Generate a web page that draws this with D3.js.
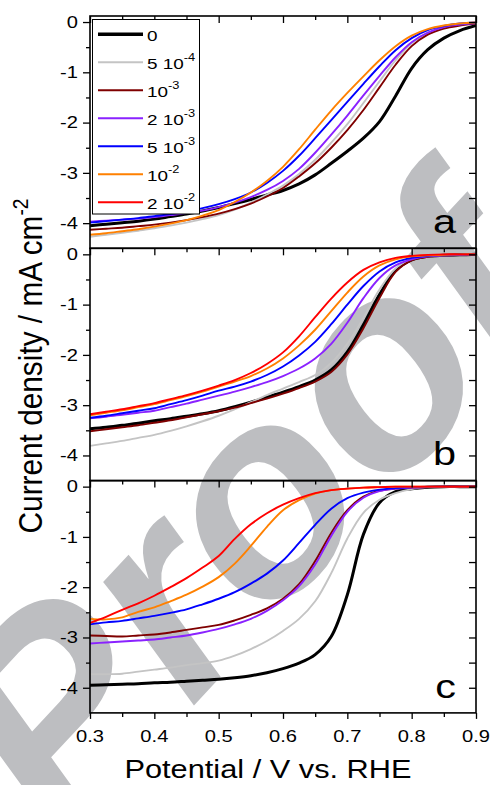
<!DOCTYPE html>
<html>
<head>
<meta charset="utf-8">
<script src="https://cdn.jsdelivr.net/npm/d3@7"></script>
<style>
  html, body { margin: 0; padding: 0; background: #fff; }
  svg { display: block; font-family: "Liberation Sans", Arial, Helvetica, sans-serif; }
</style>
</head>
<body>
<svg id="chart" width="490" height="785"></svg>
<script>
// ---------------- data ----------------
const potential = [0.300,0.325,0.350,0.375,0.400,0.425,0.450,0.475,0.500,0.525,0.550,0.575,0.600,0.625,0.650,0.675,0.700,0.725,0.750,0.775,0.800,0.825,0.850,0.875,0.900];

const legendBase = ["0", "5 10", "10", "2 10", "5 10", "10", "2 10"];
const legendExp  = ["",  "-4",   "-3", "-3",   "-3",   "-2", "-2"];
const seriesColors = ["#000000", "#c4c4c4", "#7f0000", "#8a22ff", "#0000ff", "#ff8000", "#ff0000"];

// panel a (no 2 10^-2 curve)
const a_0   = [-4.05,-4.02,-3.99,-3.96,-3.92,-3.87,-3.82,-3.76,-3.69,-3.61,-3.53,-3.44,-3.35,-3.22,-3.04,-2.81,-2.57,-2.31,-1.98,-1.47,-0.92,-0.55,-0.32,-0.17,-0.07];
const a_5e4 = [-4.27,-4.23,-4.19,-4.15,-4.10,-4.05,-3.99,-3.92,-3.84,-3.73,-3.59,-3.43,-3.25,-3.02,-2.74,-2.40,-2.03,-1.61,-1.18,-0.76,-0.42,-0.22,-0.11,-0.05,-0.02];
const a_1e3 = [-4.13,-4.11,-4.09,-4.06,-4.03,-3.99,-3.94,-3.88,-3.81,-3.72,-3.61,-3.47,-3.30,-3.07,-2.81,-2.50,-2.15,-1.75,-1.30,-0.85,-0.48,-0.25,-0.13,-0.07,-0.03];
const a_2e3 = [-3.97,-3.95,-3.93,-3.91,-3.88,-3.84,-3.80,-3.75,-3.68,-3.59,-3.48,-3.34,-3.16,-2.92,-2.60,-2.24,-1.86,-1.46,-1.07,-0.70,-0.40,-0.21,-0.10,-0.05,-0.02];
const a_5e3 = [-3.99,-3.96,-3.93,-3.90,-3.86,-3.82,-3.76,-3.70,-3.62,-3.52,-3.39,-3.20,-2.96,-2.66,-2.31,-1.95,-1.59,-1.23,-0.88,-0.56,-0.32,-0.16,-0.08,-0.03,-0.01];
const a_1e2 = [-4.23,-4.20,-4.16,-4.12,-4.07,-4.01,-3.94,-3.85,-3.74,-3.58,-3.39,-3.16,-2.88,-2.53,-2.14,-1.76,-1.41,-1.08,-0.76,-0.48,-0.27,-0.14,-0.07,-0.03,-0.01];
const a_2e2 = null;

// panel b
const b_0   = [-3.47,-3.44,-3.40,-3.36,-3.31,-3.27,-3.22,-3.17,-3.11,-3.03,-2.94,-2.84,-2.74,-2.63,-2.50,-2.30,-1.94,-1.40,-0.80,-0.32,-0.11,-0.04,-0.02,-0.01,0.00];
const b_5e4 = [-3.81,-3.76,-3.71,-3.65,-3.59,-3.51,-3.42,-3.32,-3.21,-3.08,-2.94,-2.80,-2.67,-2.54,-2.40,-2.16,-1.78,-1.26,-0.70,-0.28,-0.10,-0.04,-0.02,-0.01,0.00];
const b_1e3 = [-3.52,-3.48,-3.44,-3.40,-3.35,-3.30,-3.24,-3.18,-3.12,-3.05,-2.96,-2.87,-2.77,-2.66,-2.53,-2.34,-1.99,-1.47,-0.87,-0.35,-0.12,-0.05,-0.02,-0.01,0.00];
const b_2e3 = [-3.26,-3.23,-3.19,-3.15,-3.11,-3.04,-2.97,-2.89,-2.81,-2.73,-2.64,-2.54,-2.42,-2.27,-2.07,-1.78,-1.36,-0.87,-0.47,-0.22,-0.10,-0.04,-0.02,-0.01,0.00];
const b_5e3 = [-3.25,-3.21,-3.16,-3.11,-3.06,-2.98,-2.90,-2.81,-2.71,-2.63,-2.53,-2.40,-2.23,-2.01,-1.74,-1.39,-1.00,-0.63,-0.34,-0.16,-0.07,-0.03,-0.01,0.00,0.00];
const b_1e2 = [-3.20,-3.15,-3.10,-3.04,-2.98,-2.90,-2.82,-2.73,-2.63,-2.53,-2.42,-2.27,-2.07,-1.81,-1.50,-1.13,-0.76,-0.44,-0.22,-0.10,-0.04,-0.02,-0.01,0.00,0.00];
const b_2e2 = [-3.18,-3.13,-3.08,-3.02,-2.96,-2.88,-2.80,-2.71,-2.61,-2.50,-2.36,-2.18,-1.95,-1.63,-1.25,-0.88,-0.56,-0.31,-0.16,-0.07,-0.03,-0.01,0.00,0.00,0.00];

// panel c
const c_0   = [-3.95,-3.94,-3.93,-3.92,-3.90,-3.89,-3.87,-3.85,-3.83,-3.80,-3.76,-3.70,-3.62,-3.51,-3.34,-2.98,-2.15,-0.95,-0.32,-0.10,-0.04,-0.01,0.00,0.00,0.00];
const c_5e4 = [-3.73,-3.73,-3.72,-3.68,-3.64,-3.60,-3.55,-3.51,-3.46,-3.36,-3.23,-3.07,-2.87,-2.63,-2.28,-1.72,-1.03,-0.52,-0.26,-0.13,-0.05,-0.01,0.00,0.00,0.00];
const c_1e3 = [-2.96,-2.97,-2.98,-2.96,-2.94,-2.90,-2.85,-2.80,-2.75,-2.66,-2.55,-2.42,-2.23,-1.94,-1.48,-0.92,-0.47,-0.20,-0.08,-0.04,-0.02,-0.01,0.00,0.00,0.00];
const c_2e3 = [-3.12,-3.10,-3.08,-3.06,-3.04,-3.00,-2.96,-2.90,-2.83,-2.74,-2.63,-2.47,-2.26,-1.98,-1.55,-0.98,-0.50,-0.22,-0.09,-0.04,-0.02,-0.01,0.00,0.00,0.00];
const c_5e3 = [-2.74,-2.70,-2.67,-2.62,-2.57,-2.51,-2.44,-2.34,-2.23,-2.10,-1.93,-1.73,-1.47,-1.12,-0.76,-0.44,-0.23,-0.12,-0.06,-0.03,-0.01,0.00,0.00,0.00,0.00];
const c_1e2 = [-2.63,-2.64,-2.60,-2.49,-2.40,-2.28,-2.15,-1.99,-1.80,-1.53,-1.18,-0.80,-0.47,-0.27,-0.14,-0.07,-0.04,-0.02,-0.01,0.00,0.00,0.00,0.00,0.00,0.00];
const c_2e2 = [-2.71,-2.59,-2.45,-2.32,-2.17,-2.00,-1.82,-1.61,-1.38,-1.04,-0.75,-0.53,-0.36,-0.23,-0.13,-0.07,-0.04,-0.02,-0.01,0.00,0.00,0.00,0.00,0.00,0.00];

const panelNames = ["a", "b", "c"];
const panelSeries = [
  [a_0, a_5e4, a_1e3, a_2e3, a_5e3, a_1e2, a_2e2],
  [b_0, b_5e4, b_1e3, b_2e3, b_5e3, b_1e2, b_2e2],
  [c_0, c_5e4, c_1e3, c_2e3, c_5e3, c_1e2, c_2e2]
];

const xTicks = [0.3,0.4,0.5,0.6,0.7,0.8,0.9];
const xMinor = [0.35,0.45,0.55,0.65,0.75,0.85];
const yTicks = [0,-1,-2,-3,-4];
const yMinor = [-0.5,-1.5,-2.5,-3.5];

// ---------------- layout ----------------
const svg = d3.select("#chart");
const left = 90, right = 476;
const panelTop = [16, 248.3, 480.6];
const panelH = 232.3;
const SX = 1.22; // horizontal stretch of the reference's type

const x = d3.scaleLinear().domain([0.3, 0.9]).range([left, right]);

function stext(g, px, py, str, size, anchor, sx, sy) {
  return g.append("text")
    .attr("transform", `translate(${px},${py}) scale(${sx||SX},${sy||1})`)
    .attr("text-anchor", anchor || "start")
    .attr("font-size", size)
    .attr("fill", "#000")
    .text(str);
}

// watermark
svg.append("text")
  .attr("transform", "translate(61,848) rotate(-47)")
  .attr("font-size", 285)
  .attr("font-weight", "bold")
  .attr("font-style", "italic")
  .attr("fill", "#bdbec1")
  .text("Proof");

const defs = svg.append("defs");

panelNames.forEach((name, p) => {
  const top = panelTop[p], bottom = top + panelH;
  const y = d3.scaleLinear().domain([-4.5, 0.12]).range([bottom, top]);
  const g = svg.append("g");

  defs.append("clipPath").attr("id", "clip" + p)
    .append("rect").attr("x", left).attr("y", top).attr("width", right - left).attr("height", panelH);

  const line = d3.line()
    .x((d, i) => x(potential[i]))
    .y(d => y(d))
    .curve(d3.curveCatmullRom.alpha(0.5));

  const lg = g.append("g").attr("clip-path", `url(#clip${p})`);
  panelSeries[p].forEach((vals, s) => {
    if (!vals) return;
    lg.append("path")
      .attr("d", line(vals))
      .attr("fill", "none")
      .attr("stroke", seriesColors[s])
      .attr("stroke-width", s === 0 ? 3 : 1.9)
      .attr("stroke-linejoin", "round");
  });

  // axes
  const ax = g.append("g").attr("class", "axes");
  const styleAxis = sel => { sel.select(".domain").remove(); sel.selectAll("line").attr("stroke", "#000").attr("stroke-width", 1.3); };

  ax.append("g").attr("transform", `translate(${left},0)`)
    .call(d3.axisLeft(y).tickValues(yTicks).tickSize(7).tickFormat("")).call(styleAxis);
  ax.append("g").attr("transform", `translate(${left},0)`)
    .call(d3.axisLeft(y).tickValues(yMinor).tickSize(4).tickFormat("")).call(styleAxis);
  ax.append("g").attr("transform", `translate(${right},0)`)
    .call(d3.axisRight(y).tickValues(yTicks).tickSize(-7).tickFormat("")).call(styleAxis);
  ax.append("g").attr("transform", `translate(${right},0)`)
    .call(d3.axisRight(y).tickValues(yMinor).tickSize(-7).tickFormat("")).call(styleAxis);
  ax.append("g").attr("transform", `translate(0,${top})`)
    .call(d3.axisTop(x).tickValues(xTicks).tickSize(-7).tickFormat("")).call(styleAxis);
  ax.append("g").attr("transform", `translate(0,${top})`)
    .call(d3.axisTop(x).tickValues(xMinor).tickSize(-4).tickFormat("")).call(styleAxis);
  if (p === 2) {
    ax.append("g").attr("transform", `translate(0,${bottom})`)
      .call(d3.axisBottom(x).tickValues(xTicks).tickSize(6).tickFormat("")).call(styleAxis);
    ax.append("g").attr("transform", `translate(0,${bottom})`)
      .call(d3.axisBottom(x).tickValues(xMinor).tickSize(4).tickFormat("")).call(styleAxis);
    xTicks.forEach(v => stext(g, x(v), 742, String(v), 16.5, "middle"));
  }

  g.append("rect").attr("x", left).attr("y", top).attr("width", right - left).attr("height", panelH)
    .attr("fill", "none").attr("stroke", "#000").attr("stroke-width", 1.6);

  yTicks.forEach(v => stext(g, 78, y(v) + 5.8, String(v), 16.5, "end"));

  stext(g, 456, y(-4) + 10, name, 34, "end");
});

// legend
const lgd = svg.append("g");
lgd.append("rect").attr("x", 92.5).attr("y", 19.5).attr("width", 107).attr("height", 194.5)
  .attr("fill", "#fff").attr("stroke", "#000").attr("stroke-width", 1);
legendBase.forEach((b, i) => {
  const ry = 34.3 + i * 28;
  lgd.append("line").attr("x1", 98).attr("x2", 143).attr("y1", ry).attr("y2", ry)
    .attr("stroke", seriesColors[i]).attr("stroke-width", i === 0 ? 3.5 : 2);
  const t = stext(lgd, 147, ry + 6.5, b, 15.5, "start");
  if (legendExp[i]) {
    t.append("tspan").attr("font-size", 10.5).attr("dy", -7.5).text(legendExp[i]);
  }
});

// axis titles
stext(svg, 268, 778, "Potential / V vs. RHE", 25, "middle", 1.23, 1);
const yt = svg.append("text")
  .attr("transform", "translate(42,366) rotate(-90) scale(1.064,1.2)")
  .attr("text-anchor", "middle").attr("font-size", 28).attr("fill", "#000")
  .text("Current density / mA cm");
yt.append("tspan").attr("font-size", 18).attr("dy", -12).text("-2");
</script>
</body>
</html>
